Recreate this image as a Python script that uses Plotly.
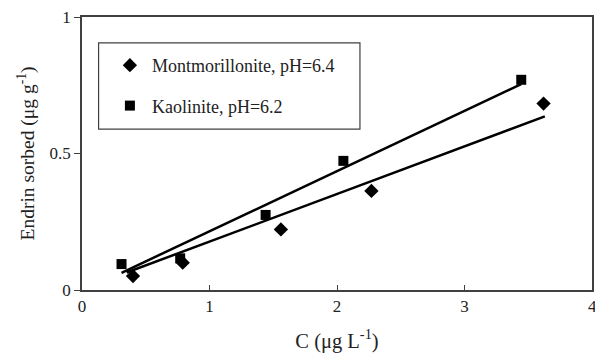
import plotly.graph_objects as go

# Data
mont_x = [0.40, 0.79, 1.56, 2.27, 3.62]
mont_y = [0.051, 0.100, 0.222, 0.363, 0.683]
kaol_x = [0.31, 0.77, 1.44, 2.05, 3.445]
kaol_y = [0.095, 0.116, 0.275, 0.473, 0.770]

# Fitted lines (endpoints)
mont_fit_x = [0.35, 3.63]
mont_fit_y = [0.064, 0.636]
kaol_fit_x = [0.31, 3.445]
kaol_fit_y = [0.063, 0.754]

x_ticks = [0, 1, 2, 3]
x_tick_labels = ["0", "1", "2", "3"]
y_ticks = [0, 0.5, 1]
y_tick_labels = ["0", "0.5", "1"]

FONT = "Liberation Serif, Times New Roman, DejaVu Serif, serif"

fig = go.Figure()
fig.add_trace(go.Scatter(x=kaol_fit_x, y=kaol_fit_y, mode="lines",
                         line=dict(color="black", width=2.5), showlegend=False))
fig.add_trace(go.Scatter(x=mont_fit_x, y=mont_fit_y, mode="lines",
                         line=dict(color="black", width=2.5), showlegend=False))
fig.add_trace(go.Scatter(x=mont_x, y=mont_y, mode="markers", name="Montmorillonite, pH=6.4",
                         legendgroup="m",
                         marker=dict(symbol="diamond", size=11, color="black")))
fig.add_trace(go.Scatter(x=kaol_x, y=kaol_y, mode="markers", name="Kaolinite, pH=6.2",
                         legendgroup="k",
                         marker=dict(symbol="square", size=10, color="black")))

fig.add_shape(type="rect", xref="x", yref="y", x0=0.13, x1=2.18, y0=0.589, y1=0.905,
              line=dict(color="#404040", width=1.2), fillcolor="rgba(0,0,0,0)", layer="below")

# the last x tick label sits on the page edge
fig.add_annotation(x=4, xref="x", y=0, yref="y", text="4", showarrow=False,
                   xanchor="center", yanchor="top", yshift=-5,
                   font=dict(family=FONT, size=17, color="#222"))

fig.update_layout(
    width=595, height=354,
    margin=dict(l=82, r=1, t=17, b=64),
    paper_bgcolor="white", plot_bgcolor="white",
    font=dict(family=FONT, size=17, color="#222"),
    showlegend=True,
    legend=dict(x=(108 - 82) / 512, y=(290 - 47) / 273, xanchor="left", yanchor="top",
                bgcolor="rgba(0,0,0,0)", borderwidth=0, tracegroupgap=14,
                itemwidth=34,
                font=dict(family=FONT, size=18, color="#222")),
    xaxis=dict(range=[0, 4], tickvals=x_ticks, ticktext=x_tick_labels, ticks="inside", ticklen=5,
               tickcolor="#404040", tickfont=dict(family=FONT, size=17, color="#222"),
               showline=True, linecolor="#404040", linewidth=1.5, mirror=True,
               showgrid=False, zeroline=False,
               title=dict(text="C (μg L<sup>-1</sup>)", font=dict(family=FONT, size=20.5), standoff=18)),
    yaxis=dict(range=[0, 1], tickvals=y_ticks, ticktext=y_tick_labels, ticks="outside", ticklen=6,
               tickcolor="#404040", tickfont=dict(family=FONT, size=17, color="#222"),
               showline=True, linecolor="#404040", linewidth=1.5, mirror=True,
               showgrid=False, zeroline=False,
               title=dict(text="Endrin sorbed (μg g<sup>-1</sup>)", font=dict(family=FONT, size=19.5), standoff=10)),
)

fig.write_html("out.html")
